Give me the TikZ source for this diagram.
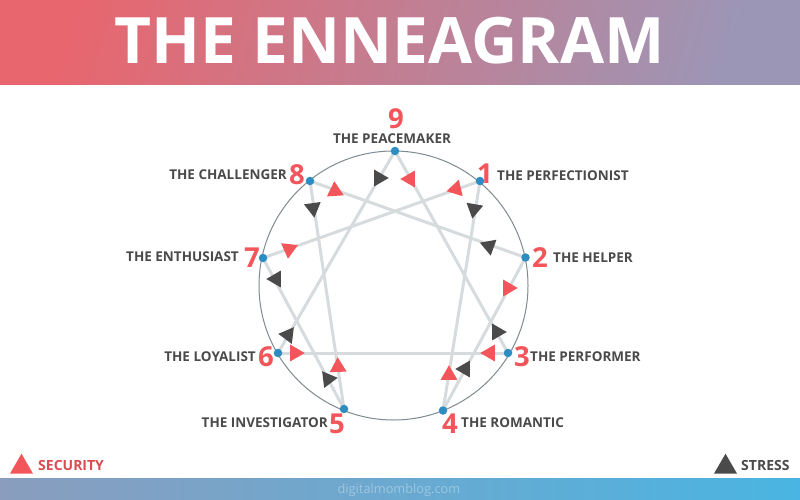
\documentclass[tikz,border=0pt]{standalone}
\usepackage{fontspec}
\setmainfont{Open Sans}
\usetikzlibrary{shapes.geometric}
\definecolor{redmark}{HTML}{F2555A}
\definecolor{darkmark}{HTML}{4A4A4A}
\definecolor{linegray}{HTML}{D6DBDE}
\definecolor{ringgray}{HTML}{808A90}
\definecolor{dotblue}{HTML}{2E8DC0}
\definecolor{bandred}{HTML}{E8666E}
\definecolor{bandlilac}{HTML}{9C96B6}
\definecolor{footlilac}{HTML}{8A9DBE}
\definecolor{footblue}{HTML}{4AB5E2}
\tikzset{
  dot/.style={circle,fill=dotblue,inner sep=0pt,minimum size=8.5pt},
  chord/.style={draw=linegray,line width=3pt},
  redtri/.style={regular polygon,regular polygon sides=3,fill=redmark,inner sep=0pt,minimum size=19.5pt},
  darktri/.style={regular polygon,regular polygon sides=3,fill=darkmark,inner sep=0pt,minimum size=19.5pt},
  typelabel/.style={text=darkmark,font=\fontsize{13.5}{14}\selectfont\bfseries,inner sep=0pt},
  keylabel/.style={typelabel,font=\fontsize{14}{15}\selectfont\bfseries,anchor=west},
  number/.style={text=redmark,font=\fontsize{27.5}{28}\selectfont\bfseries,inner sep=0pt},
}
\begin{document}
\begin{tikzpicture}[x=1pt,y=-1pt]
\useasboundingbox (0,0) rectangle (800,500);
\fill[white] (0,0) rectangle (800,500);
% bands
\shade[left color=bandred,right color=bandlilac,shading angle=74] (0,0) rectangle (800,85);
\shade[left color=footlilac,right color=footblue] (0,478) rectangle (800,500);
\node[text=white,font=\fontsize{64}{64}\selectfont\bfseries,inner sep=0pt] (title) at (389.5,41) {THE ENNEAGRAM};
\node[text=white,opacity=0.35,font=\fontsize{12.8}{13}\selectfont,inner sep=0pt] (site) at (399,490) {digitalmomblog.com};
% ring
\draw[ringgray,line width=1pt] (393.5,285.5) circle (134.5);
% points
\coordinate (p9) at (395,151);
\coordinate (p1) at (480,181);
\coordinate (p2) at (525.5,257.5);
\coordinate (p3) at (508,353);
\coordinate (p4) at (443,410.5);
\coordinate (p5) at (344,409);
\coordinate (p6) at (278,353);
\coordinate (p7) at (263,258);
\coordinate (p8) at (310,181);
% chords
\draw[chord] (p9) -- (p3);
\draw[chord] (p3) -- (p6);
\draw[chord] (p6) -- (p9);
\draw[chord] (p1) -- (p4);
\draw[chord] (p4) -- (p2);
\draw[chord] (p2) -- (p8);
\draw[chord] (p8) -- (p5);
\draw[chord] (p5) -- (p7);
\draw[chord] (p7) -- (p1);
% dots
\node[dot] (d9) at (p9) {};
\node[dot] (d1) at (p1) {};
\node[dot] (d2) at (p2) {};
\node[dot] (d3) at (p3) {};
\node[dot] (d4) at (p4) {};
\node[dot] (d5) at (p5) {};
\node[dot] (d6) at (p6) {};
\node[dot] (d7) at (p7) {};
\node[dot] (d8) at (p8) {};
% security marks
\node[redtri,rotate=90] (r9) at (410,179) {};
\node[redtri,rotate=4] (r8) at (335,191) {};
\node[redtri,rotate=103] (r1) at (456,189) {};
\node[redtri,rotate=174] (r7) at (289,249) {};
\node[redtri,rotate=-90] (r2) at (508,288) {};
\node[redtri,rotate=90] (r3) at (490,353) {};
\node[redtri,rotate=-90] (r6) at (295,353) {};
\node[redtri,rotate=2] (r5) at (338,367) {};
\node[redtri] (r4) at (449,375) {};
% stress marks
\node[darktri,rotate=-90] (s9) at (379,178) {};
\node[darktri,rotate=188] (s8) at (313,208) {};
\node[darktri,rotate=170] (s1) at (474,209) {};
\node[darktri,rotate=190] (s2) at (489,246) {};
\node[darktri,rotate=90] (s7) at (276,279) {};
\node[darktri,rotate=83] (s6) at (288,335) {};
\node[darktri,rotate=-90] (s3) at (497,332) {};
\node[darktri,rotate=90] (s4) at (465,369) {};
\node[darktri,rotate=-83] (s5) at (328,379) {};
% numbers
\node[number] (n9) at (396,119) {9};
\node[number] (n1) at (485,173.5) {1};
\node[number] (n2) at (540,257.5) {2};
\node[number] (n3) at (522,356.5) {3};
\node[number] (n4) at (450,423.5) {4};
\node[number] (n5) at (337,423.5) {5};
\node[number] (n6) at (266,356.5) {6};
\node[number] (n7) at (252,257.5) {7};
\node[number] (n8) at (297,174.5) {8};
% names
\node[typelabel] (l9) at (392,138.5) {THE PEACEMAKER};
\node[typelabel,anchor=west] (l1) at (497,176) {THE PERFECTIONIST};
\node[typelabel,anchor=west] (l2) at (553,258) {THE HELPER};
\node[typelabel,anchor=west] (l3) at (530,357) {THE PERFORMER};
\node[typelabel,anchor=west] (l4) at (461,423) {THE ROMANTIC};
\node[typelabel,anchor=east] (l5) at (328,423) {THE INVESTIGATOR};
\node[typelabel,anchor=east] (l6) at (256,357) {THE LOYALIST};
\node[typelabel,anchor=east] (l7) at (239,257) {THE ENTHUSIAST};
\node[typelabel,anchor=east] (l8) at (287,175) {THE CHALLENGER};
% legend
\node[redtri,minimum size=26.6pt] (keyred) at (21.5,467) {};
\node[keylabel,text=redmark!90!black] (keyredtext) at (38,465) {SECURITY};
\node[darktri,minimum size=26.6pt] (keydark) at (725.5,467) {};
\node[keylabel] (keydarktext) at (741,465) {STRESS};
\end{tikzpicture}
\end{document}
